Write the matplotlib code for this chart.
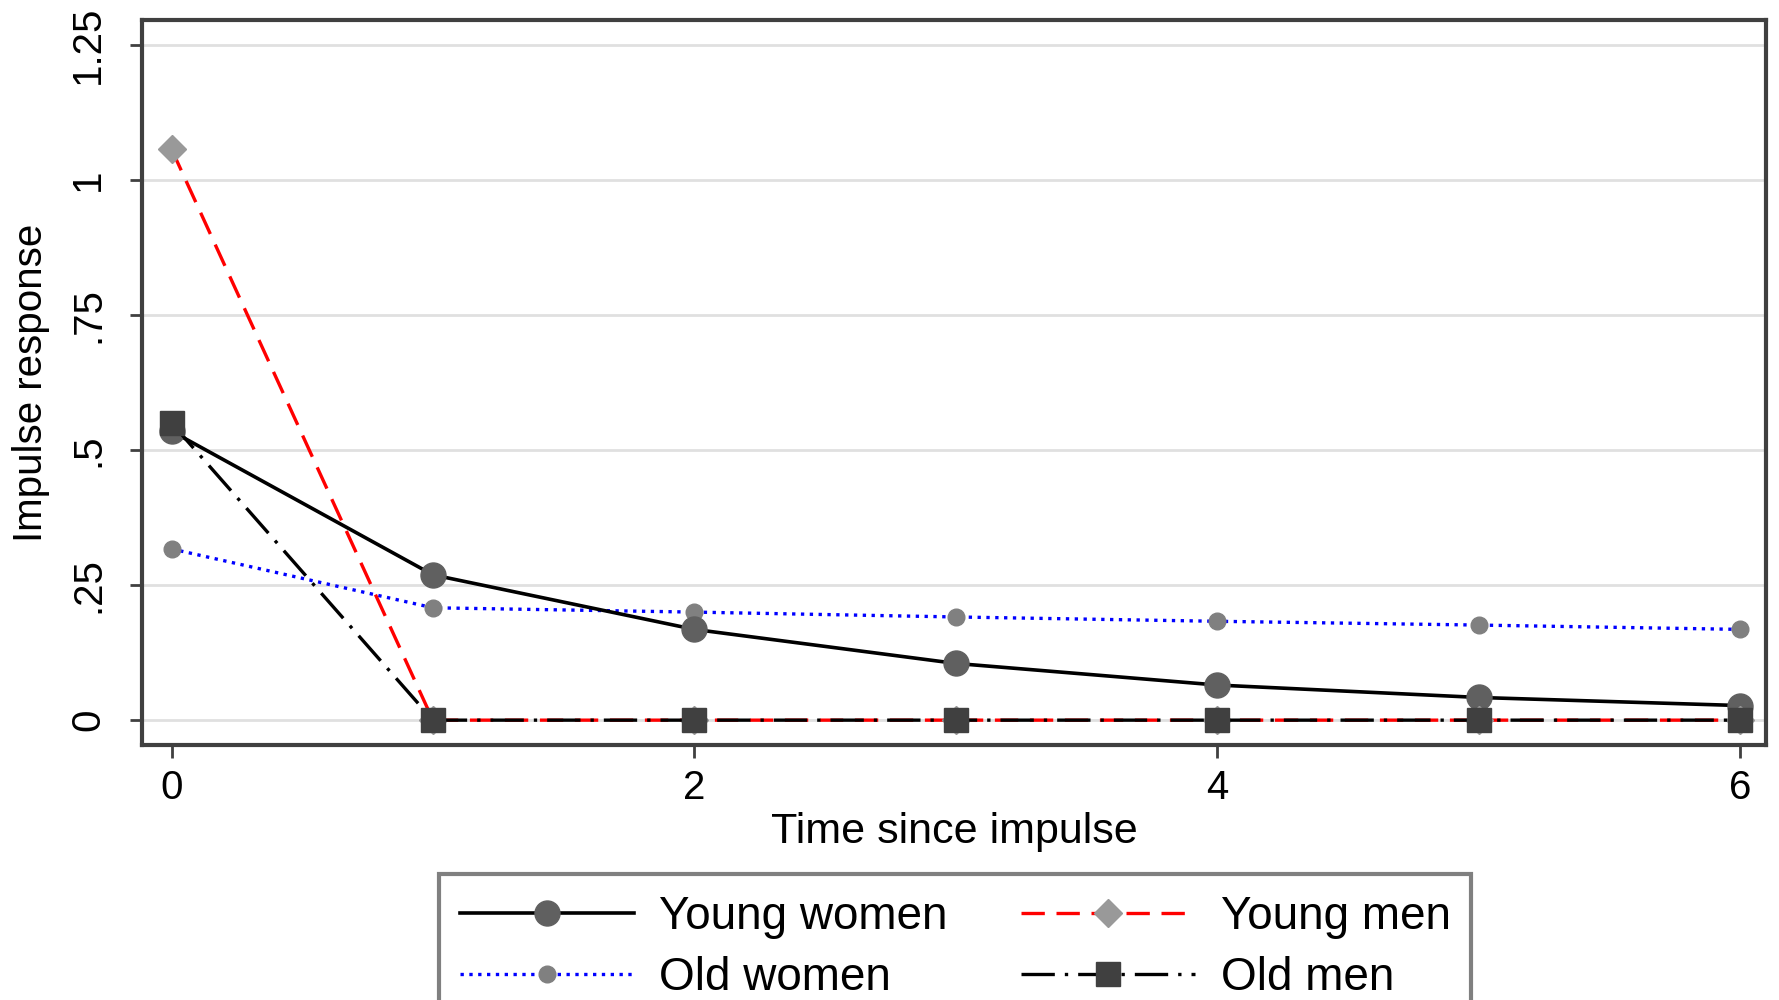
import matplotlib.pyplot as plt
from matplotlib.ticker import FixedLocator

plt.rcParams['font.family'] = ['Liberation Sans', 'DejaVu Sans']

# Impulse response by period since the impulse
t = [0, 1, 2, 3, 4, 5, 6]
young_women = [0.535, 0.269, 0.168, 0.105, 0.065, 0.042, 0.027]
young_men = [1.057, 0, 0, 0, 0, 0, 0]
old_women = [0.317, 0.208, 0.200, 0.191, 0.183, 0.176, 0.168]
old_men = [0.550, 0, 0, 0, 0, 0, 0]

yticks = [0, 0.25, 0.5, 0.75, 1, 1.25]
ytick_labels = ['0', '.25', '.5', '.75', '1', '1.25']
xticks = [0, 2, 4, 6]

fig = plt.figure(figsize=(17.79, 10), dpi=100, facecolor='w')
ax = fig.add_axes([0.0798, 0.255, 0.913, 0.725])

yw, = ax.plot(t, young_women, '-', color='black', lw=2.6, marker='o', ms=18,
              mfc='#606060', mec='#606060', label='Young women', zorder=4)
ow, = ax.plot(t, old_women, ':', color='#0000ff', lw=2.4, marker='o', ms=12,
              mfc='#808080', mec='#808080', label='Old women', zorder=3)
om, = ax.plot(t, old_men, '-.', color='black', lw=2.4, marker='s', ms=17,
              mfc='#404040', mec='#404040', label='Old men', zorder=5,
              dashes=(10, 3, 1, 3))
ym, = ax.plot(t, young_men, '--', color='#ff0000', lw=2.4, marker='D', ms=14,
              mfc='#999999', mec='#999999', label='Young men', zorder=4,
              dashes=(7, 3.5))

ax.set_xlim(-0.113, 6.1)
ax.set_ylim(-0.046, 1.296)
ax.yaxis.set_major_locator(FixedLocator(yticks))
ax.set_yticklabels(ytick_labels, rotation=90, va='center')
ax.set_xticks(xticks)
ax.grid(axis='y', color='#e0e0e0', lw=2)
ax.set_axisbelow(True)
ax.tick_params(labelsize=29, length=9, width=2, color='#404040')
ax.tick_params(axis='y', pad=16)
ax.tick_params(axis='x', pad=8)
for s in ax.spines.values():
    s.set_color('#404040')
    s.set_linewidth(3)

ax.set_xlabel('Time since impulse', fontsize=31, labelpad=4)
ax.set_ylabel('Impulse response', fontsize=29, labelpad=14)

leg = fig.legend([yw, ow, ym, om],
                 ['Young women', 'Old women', 'Young men', 'Old men'],
                 loc='upper center', bbox_to_anchor=(0.537, 0.126), ncol=2,
                 fontsize=33, handlelength=3.8, columnspacing=1.6,
                 handletextpad=0.55, labelspacing=0.38, borderpad=0.45,
                 borderaxespad=0, fancybox=False,
                 edgecolor='#808080', framealpha=1)
leg.get_frame().set_linewidth(3)

fig.savefig('out.png', dpi=100)
